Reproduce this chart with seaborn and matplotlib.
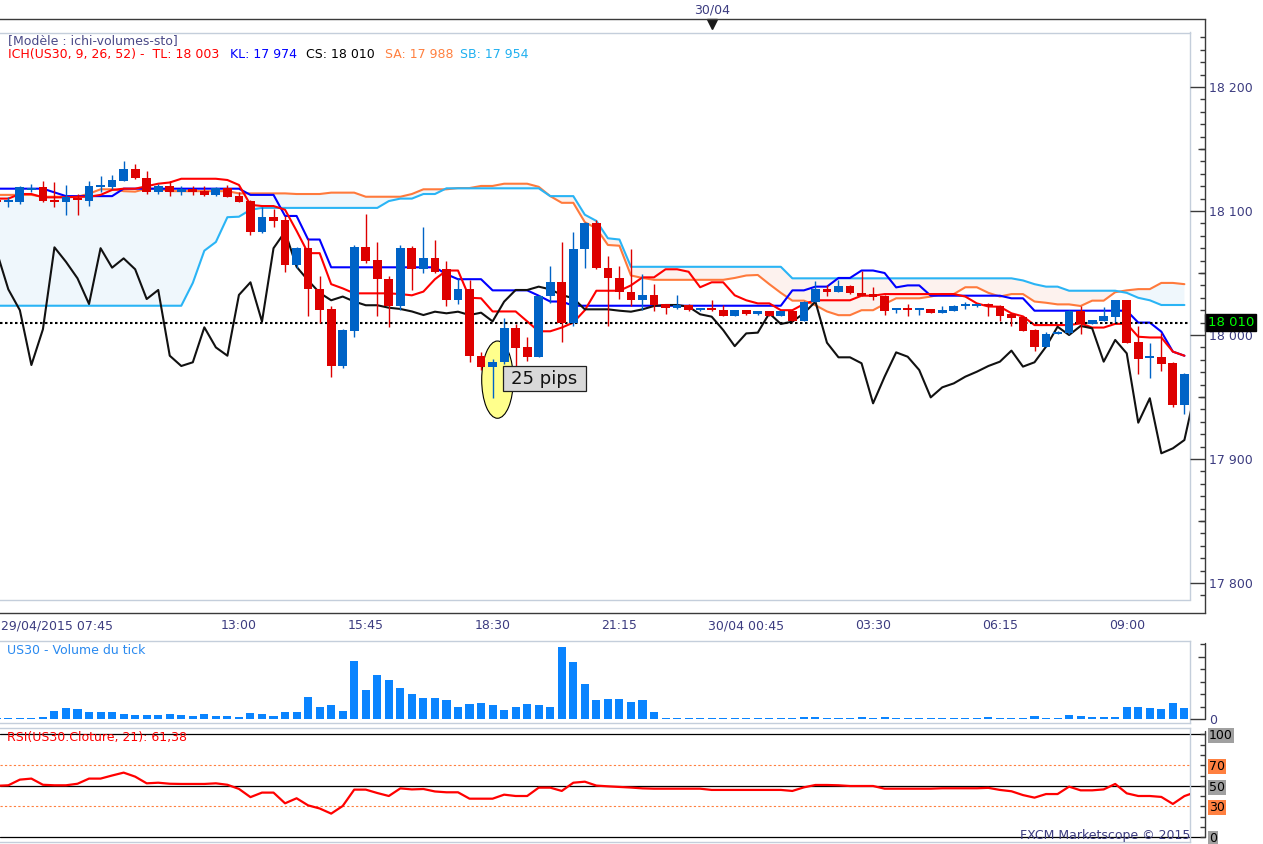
import numpy as np
import matplotlib
matplotlib.use("Agg")
import matplotlib.pyplot as plt
import matplotlib.transforms as mtransforms
from matplotlib.lines import Line2D
from matplotlib.patches import Ellipse, Rectangle
import seaborn as sns

# ---- price bars (15 min, 29/04 07:45 -> 30/04 10:15) ----
opens = [18108, 18107, 18107.5, 18117, 18119, 18109, 18107, 18110.5, 18108, 18119,
         18119, 18124.5, 18133.5, 18127, 18115, 18120, 18115, 18118, 18116, 18113,
         18118.3, 18112, 18108, 18083, 18095, 18093, 18056.5, 18070, 18037, 18021,
         17975, 18003.5, 18070.7, 18060.5, 18045, 18023, 18070, 18053, 18062, 18053,
         18028, 18037, 17983, 17974.5, 17978, 18006, 17990, 17982.5, 18031.7, 18042.5,
         18010, 18069, 18090, 18054, 18046, 18035, 18028, 18032, 18024.7, 18021.5,
         18024, 18020, 18021, 18020, 18015.6, 18020, 18016.7, 18019, 18015.6, 18019.6,
         18011.5, 18027, 18037, 18035, 18039.5, 18033.6, 18033, 18031.5, 18020, 18020.8,
         18020, 18020.7, 18018, 18019.6, 18023.5, 18023, 18023.8, 18023.4, 18017, 18014.8,
         18004, 17990.6, 18000.8, 18001.3, 18019.6, 18009, 18011.5, 18014.8, 18028.2, 17994.6,
         17981.5, 17982.5, 17977.7, 17943.5]
closes = [18107, 18108, 18119, 18118, 18108, 18107, 18111, 18108.5, 18120, 18120,
          18125, 18133.5, 18127, 18115, 18120, 18115, 18118, 18115, 18113, 18118.5,
          18111.5, 18107.5, 18083, 18095, 18092, 18056.5, 18070, 18037, 18020, 17975,
          18004, 18071, 18060, 18045, 18023, 18070, 18053, 18062, 18051, 18028,
          18037, 17983, 17974.5, 17978, 18006, 17989.6, 17982.5, 18031.7, 18042.5, 18010,
          18069, 18090, 18054, 18046, 18035, 18028, 18032, 18024, 18021.5, 18024.2,
          18020, 18021, 18020, 18015.6, 18020, 18016.7, 18019, 18015.6, 18019, 18011.5,
          18027, 18037, 18035, 18039.5, 18033.6, 18031.7, 18031, 18019.6, 18020.8, 18020,
          18020.8, 18018, 18020.2, 18023.6, 18024.2, 18024.2, 18023, 18015.6, 18014, 18003.5,
          17990.6, 18000.8, 18002.7, 18019.6, 18008.9, 18012, 18015.3, 18028.2, 17993.8, 17980.6,
          17982.5, 17976.6, 17943.5, 17968.5]
highs = [18111, 18111, 18120, 18122, 18124, 18123, 18121, 18114, 18124, 18128,
         18129, 18140, 18138, 18132, 18122, 18124.5, 18120, 18120, 18120, 18119,
         18121, 18115.6, 18108.5, 18103.5, 18102, 18096, 18071, 18078, 18047.6, 18023,
         18005, 18072.6, 18097.6, 18074.8, 18047.6, 18072.6, 18072, 18087, 18077, 18060,
         18046, 18044, 17986, 17980.6, 18014, 18009, 17998, 18032, 18055.6, 18075,
         18083, 18091, 18093, 18064, 18056, 18069, 18049, 18041, 18025, 18032,
         18025, 18021.5, 18028, 18024, 18020.5, 18020.5, 18019.5, 18019.5, 18019.5, 18020,
         18027.5, 18043.5, 18040, 18044.4, 18040, 18052, 18039, 18032, 18022, 18025,
         18021, 18021, 18023, 18024, 18027, 18024.5, 18026, 18023.8, 18017.5, 18015,
         18004.5, 18002.7, 18003, 18020, 18023.4, 18012.5, 18022.8, 18028.5, 18028.5, 18007,
         17993.8, 18002, 17978, 17969]
lows = [18104, 18103, 18106, 18115.6, 18107, 18103, 18097, 18097, 18104, 18115.6,
        18118, 18124, 18126, 18114, 18114, 18112, 18113, 18113, 18112, 18112,
        18111, 18107, 18081, 18082, 18087, 18051, 18054, 18015, 18009.4, 17966,
        17973.6, 17998.6, 18057.8, 18015.3, 18006.7, 18020, 18036, 18050, 18050, 18023,
        18025, 17978, 17972, 17949.5, 17977, 17974.5, 17979, 17982, 18025.5, 17994,
        18007.5, 18054, 18053, 18007, 18029, 18023, 18020, 18019, 18017, 18021,
        18019.5, 18019.5, 18019.5, 18015, 18015, 18016, 18016, 18015, 18015, 18011,
        18011, 18026.5, 18031.5, 18034.5, 18033, 18031.5, 18028, 18016, 18018, 18015,
        18016, 18017.5, 18017.5, 18019, 18021, 18022.5, 18015.6, 18011.5, 18007.5, 18003,
        17987.4, 17990, 18000.5, 18001, 18000.8, 18008.5, 18011, 18010.2, 17993.5, 17968.5,
        17965, 17971, 17941.7, 17936]

# ---- Ichimoku lines ----
tenkan = [18110, 18110, 18113.7, 18113.7, 18111, 18111, 18111, 18111.5, 18111.5, 18113,
          18117, 18118, 18118, 18120, 18122, 18123, 18126, 18126, 18126, 18126,
          18125, 18121, 18105, 18104, 18104, 18101, 18084, 18066, 18066, 18041,
          18037.6, 18033.6, 18033.6, 18033.6, 18033.6, 18033, 18032, 18035, 18045, 18052,
          18052, 18030, 18029.6, 18019, 18019, 18019, 18011, 18003, 18003, 18006,
          18010, 18020, 18035.7, 18035.7, 18035.7, 18040, 18046.5, 18046.5, 18053, 18053,
          18051, 18038.5, 18042.5, 18042.5, 18032, 18028, 18025.5, 18025.5, 18020, 18020,
          18025, 18028, 18028, 18028, 18028, 18031.7, 18031.7, 18033, 18033, 18033,
          18033, 18033, 18033, 18033, 18031, 18025.5, 18023, 18022.8, 18017.5, 18015,
          18008, 18008, 18008, 18008, 18009.4, 18006, 18006, 18009, 18009, 17998.6,
          17998, 17998, 17986.6, 17983.3]
kijun = [18118, 18118, 18118, 18118, 18118, 18115, 18112, 18112, 18112, 18112,
         18112, 18118, 18118, 18118, 18118, 18118, 18118, 18118, 18118, 18118,
         18118, 18118, 18113, 18113, 18113, 18096, 18096, 18077, 18077, 18054.6,
         18054.6, 18054.6, 18054.6, 18054.6, 18054.6, 18054.6, 18054.6, 18054.6, 18054.6, 18049,
         18045, 18045, 18045, 18036, 18036, 18036, 18036, 18031.7, 18027, 18027,
         18023.6, 18023.6, 18023.6, 18023.6, 18023.6, 18023.6, 18023.6, 18023.6, 18023.6, 18023.6,
         18023.6, 18023.6, 18023.6, 18023.6, 18023.6, 18023.6, 18023.6, 18023.6, 18023.6, 18036,
         18036, 18039, 18039, 18046, 18046, 18052, 18052, 18050, 18038.4, 18040,
         18040, 18031.7, 18031.7, 18031.7, 18031.7, 18031.7, 18031.7, 18031.7, 18029.6, 18029.6,
         18019.6, 18019.6, 18019.6, 18019.6, 18019.6, 18019.6, 18019.6, 18019.6, 18019.6, 18010,
         18010, 18002.7, 17986.6, 17983.3]
senkou_a = [18113, 18113, 18113, 18113, 18111.5, 18111.5, 18111.5, 18111.5, 18114, 18117.5,
            18117.5, 18116, 18115.6, 18118, 18118, 18116, 18116, 18116, 18116, 18116,
            18116, 18114.2, 18114.2, 18114.2, 18114.2, 18114.2, 18113.7, 18113.7, 18113.7, 18114.8,
            18114.8, 18114.8, 18111.5, 18111.5, 18111.5, 18111.5, 18113.7, 18117.5, 18117.5, 18117.5,
            18118.5, 18118.5, 18120.2, 18120.2, 18122, 18122, 18122, 18119.5, 18112, 18106.6,
            18106.6, 18091, 18086, 18072.6, 18072, 18048, 18046, 18044.5, 18044.5, 18044.5,
            18044.5, 18044.5, 18044.5, 18044.5, 18046, 18048, 18048.4, 18041, 18034, 18027.7,
            18027.7, 18024, 18019, 18016, 18016, 18020, 18020, 18025, 18029.6, 18029.6,
            18029.6, 18031, 18033, 18033, 18038.5, 18038.5, 18034, 18031, 18033, 18033,
            18027, 18026, 18024.7, 18024.7, 18023.4, 18027.7, 18027.7, 18034.5, 18036, 18037,
            18037, 18042, 18042, 18041]
senkou_b = [18023.6, 18023.6, 18023.6, 18023.6, 18023.6, 18023.6, 18023.6, 18023.6, 18023.6, 18023.6,
            18023.6, 18023.6, 18023.6, 18023.6, 18023.6, 18023.6, 18023.6, 18042, 18068, 18075,
            18095, 18095.4, 18101, 18102.5, 18102.5, 18102.5, 18102.5, 18102.5, 18102.5, 18102.5,
            18102.5, 18102.5, 18102.5, 18102.5, 18108, 18110, 18110, 18113.7, 18113.7, 18118.3,
            18118.3, 18118.3, 18118.3, 18118.3, 18118.3, 18118.3, 18118.3, 18118.3, 18112, 18112,
            18112, 18097, 18092, 18078, 18077, 18055, 18055, 18055, 18055, 18055,
            18055, 18055, 18055, 18055, 18055, 18055, 18055, 18055, 18055, 18045.7,
            18045.7, 18045.7, 18045.7, 18045.7, 18045.7, 18045.7, 18045.7, 18045.7, 18045.7, 18045.7,
            18045.7, 18045.7, 18045.7, 18045.7, 18045.7, 18045.7, 18045.7, 18045.7, 18045.7, 18044,
            18041, 18039, 18039, 18035.7, 18035.7, 18035.7, 18035.7, 18035.7, 18034, 18030,
            18028, 18024.2, 18024.2, 18024.2]
chikou = [18067, 18036.8, 18020, 17975.8, 18004.6, 18070.7, 18059, 18045.7, 18025, 18070,
          18054.3, 18061.8, 18053, 18029, 18036.3, 17983.3, 17975, 17978, 18006.2, 17990,
          17983.3, 18032.3, 18042.5, 18010.8, 18070, 18083.3, 18055, 18044, 18034, 18028,
          18031, 18027, 18024, 18024, 18022, 18021, 18019, 18016.1, 18018.8, 18017.5,
          18018.8, 18016.1, 18018, 18011, 18026.9, 18036.3, 18036.3, 18039, 18036.8, 18032.3,
          18029.6, 18020.7, 18020.7, 18020.7, 18019.6, 18018.8, 18020.7, 18023.4, 18024.2, 18024.2,
          18022.8, 18016.7, 18014.8, 18004, 17991, 18001.3, 18001.9, 18017.5, 18008.9, 18010.8,
          18017.5, 18026.9, 17993.8, 17982, 17982, 17977.2, 17944.9, 17966.4, 17986, 17982.5,
          17971.8, 17949.7, 17957.8, 17961, 17966.4, 17970.4, 17975, 17978.5, 17987.4, 17974.5,
          17978, 17990.6, 18006.7, 18000, 18007.3, 18005.4, 17978.5, 17996, 17985.2, 17929.3,
          17949, 17904.6, 17908.6, 17915.3, 17957]

# ---- tick volume ----
volume = [4, 4, 4, 4, 8, 32, 44, 40, 31, 28,
          28, 20, 16, 16, 16, 20, 16, 12, 20, 12,
          12, 8, 27, 20, 12, 28, 28, 88, 51, 59,
          32, 232, 116, 176, 156, 124, 100, 84, 84, 76,
          48, 60, 64, 56, 36, 48, 60, 56, 48, 291,
          229, 140, 76, 80, 80, 68, 76, 28, 4, 4,
          4, 4, 4, 4, 4, 4, 4, 4, 4, 4,
          8, 8, 4, 4, 4, 8, 4, 8, 4, 4,
          4, 4, 4, 4, 4, 4, 8, 4, 4, 4,
          12, 4, 4, 16, 12, 8, 8, 8, 48, 48,
          44, 40, 64, 44]

# ---- RSI(21) ----
rsi = [50, 50.5, 56, 57, 51, 50.5, 50.5, 52, 57, 57,
       60, 62.8, 58.9, 52.4, 53, 52, 51.8, 51.8, 51.8, 52.4,
       51, 47, 39, 43.4, 43.4, 33, 37.9, 31, 28, 23,
       30.4, 46.3, 46.3, 43, 40.1, 47.5, 46.5, 46.9, 44.5, 43.7,
       43.7, 37.5, 37.5, 37.5, 41.4, 40.1, 40.1, 48.2, 48.2, 45,
       53, 54, 50.2, 49.5, 48.9, 48.3, 47.5, 47.2, 47.2, 47.2,
       47.2, 47.2, 46, 46, 46, 46, 46, 46, 46, 45,
       48.5, 50.8, 50.8, 50.5, 49.8, 49.8, 49.8, 47.2, 47.2, 47.2,
       47.2, 47.2, 47.6, 47.6, 47.6, 47.6, 48, 46, 44.7, 41,
       38.5, 42, 42, 49.2, 45.6, 45.6, 46.5, 51.8, 42.7, 40.1,
       40.1, 39.2, 32.4, 40, 44]

# ---- axis texts ----
time_ticks = [10, 21, 32, 43, 54, 65, 76, 87, 98]
time_labels = ["", "13:00", "15:45", "18:30", "21:15", "30/04 00:45", "03:30", "06:15", "09:00"]
first_label = "29/04/2015 07:45"
day_bar = 62
day_label = "30/04"
price_ticks = [17800, 17900, 18000, 18100, 18200]
last_price = 18010
rsi_levels = [0, 30, 50, 70, 100]

# ---- style ----
W, H = 1263, 844
sns.set_theme(style="white")
plt.rcParams["font.family"] = ["DejaVu Sans"]
plt.rcParams["font.size"] = 9

BLUE = "#0063c6"
RED = "#dd0000"
NAVY = "#3c3c80"
DARK = "#3a3a3a"
FRAME = "#c4cedb"

fig = plt.figure(figsize=(W / 100, H / 100), dpi=100)
fig.patch.set_facecolor("white")


def rect(x0, y0, x1, y1):
    return [x0 / W, 1 - y1 / H, (x1 - x0) / W, (y1 - y0) / H]


def fline(x0, y0, x1, y1, **kw):
    fig.add_artist(Line2D([x0 / W, x1 / W], [1 - y0 / H, 1 - y1 / H],
                          transform=fig.transFigure, **kw))


def px2bar(px):
    return (px + 3.2) / 11.53


X0, X1, X1B = px2bar(0), px2bar(1190), px2bar(1205)


def frame(ax):
    ax.set_facecolor("white")
    for s in ["top", "right", "bottom"]:
        ax.spines[s].set_color(FRAME)
        ax.spines[s].set_linewidth(1)
    ax.spines["left"].set_visible(False)
    ax.set_xticks([])
    ax.set_yticks([])
    ax.set_xlabel("")
    ax.set_ylabel("")


def right_axis(y0, y1, ylim):
    a = fig.add_axes(rect(1190, y0, 1205, y1))
    a.set_xlim(0, 1)
    a.set_ylim(*ylim)
    a.patch.set_visible(False)
    for s in a.spines.values():
        s.set_visible(False)
    a.set_xticks([])
    a.yaxis.tick_right()
    a.tick_params(axis="y", which="both", direction="in", color=DARK, width=1,
                  pad=3, labelsize=9, labelcolor=NAVY)
    return a


idx = np.arange(len(opens))
idx_ext = np.arange(len(chikou))
o, c = np.array(opens), np.array(closes)
hi, lo = np.array(highs), np.array(lows)
sa, sb = np.array(senkou_a), np.array(senkou_b)
cols = np.where(c >= o, BLUE, RED)

# ================= main price panel =================
ax = fig.add_axes(rect(0, 32.5, 1190, 599.5))
ax.fill_between(idx, sa, sb, where=sa >= sb, interpolate=True, color="#eff7fc", lw=0, zorder=1)
ax.fill_between(idx, sa, sb, where=sa < sb, interpolate=True, color="#fdf2ee", lw=0, zorder=1)
sns.lineplot(x=idx, y=senkou_a, ax=ax, color="#ff7a3c", linewidth=1.5, errorbar=None, zorder=2)
sns.lineplot(x=idx, y=senkou_b, ax=ax, color="#2ab4f5", linewidth=1.5, errorbar=None, zorder=2)
sns.lineplot(x=idx, y=kijun, ax=ax, color="#0000ff", linewidth=1.5, errorbar=None, zorder=2.2)
sns.lineplot(x=idx, y=tenkan, ax=ax, color="#ff0000", linewidth=1.5, errorbar=None, zorder=2.3)
sns.lineplot(x=idx_ext, y=chikou, ax=ax, color="#111111", linewidth=1.5, errorbar=None, zorder=2.4)
ax.axhline(last_price, color="black", lw=1.5, ls=(0, (1.2, 1.2)), zorder=2.5)

ax.add_patch(Ellipse((px2bar(497.5), 17964), width=31.6 / 11.53, height=62.3,
                     facecolor="#ffff8c", edgecolor="black", lw=0.8, zorder=3))
ax.vlines(idx, lo, hi, colors=cols, lw=1, zorder=4)
ax.bar(idx, np.maximum(np.abs(c - o), 1.6), bottom=np.minimum(o, c), width=0.76,
       color=cols, linewidth=0, zorder=5)

ax.add_patch(Rectangle((px2bar(503), 17954.8), 83 / 11.53, 20.2, facecolor="#d9d9d9",
                       edgecolor="#202020", lw=0.9, zorder=9))
ax.text(px2bar(544.5), 17964.6, "25 pips", fontsize=13, ha="center", va="center",
        color="#111111", zorder=10)

ax.set_xlim(X0, X1)
ax.set_ylim(17786.7, 18243.95)
frame(ax)

ax.text(8 / 1190, 1 - (41 - 32.5) / 567, "[Modèle : ichi-volumes-sto]", transform=ax.transAxes,
        color="#4a4a88", va="center", fontsize=9)
legend_parts = [(8, "ICH(US30, 9, 26, 52) -  TL: 18 003", "#ff0000"),
                (230, "KL: 17 974", "#0000ff"),
                (306, "CS: 18 010", "black"),
                (385, "SA: 17 988", "#ff8040"),
                (460, "SB: 17 954", "#20b0f0")]
for xp, txt, col in legend_parts:
    ax.text(xp / 1190, 1 - (54.5 - 32.5) / 567, txt, transform=ax.transAxes,
            color=col, va="center", fontsize=9)

# price scale on the right
axr = right_axis(32.5, 599.5, ax.get_ylim())
axr.set_yticks(price_ticks)
axr.set_yticklabels([f"{v:,}".replace(",", " ") for v in price_ticks])
axr.set_yticks(np.arange(17790, 18250, 10), minor=True)
axr.tick_params(axis="y", which="major", length=15 * 0.72)
axr.tick_params(axis="y", which="minor", length=5 * 0.72)
axr.hlines([17850, 17950, 18050, 18150], 8 / 15, 1, colors=DARK, lw=1)
axr.text((1207.5 - 1190) / 15, last_price, f"{last_price:,}".replace(",", " "),
         transform=mtransforms.blended_transform_factory(axr.transAxes, axr.transData),
         color="#00ff00", fontsize=9.5, ha="left", va="center", zorder=20,
         bbox=dict(boxstyle="square,pad=0.18", fc="black", ec="black"))

# top date strip
axt = fig.add_axes(rect(0, 0, 1205, 19.3))
axt.set_xlim(X0, X1B)
axt.patch.set_visible(False)
for s in ["top", "left", "right"]:
    axt.spines[s].set_visible(False)
axt.spines["bottom"].set_color(DARK)
axt.spines["bottom"].set_linewidth(1)
axt.set_yticks([])
axt.set_xticks(day_bar + 11.665 * np.arange(-5, 4))
axt.set_xticklabels([])
axt.tick_params(axis="x", direction="out", length=2.2, width=1, color=DARK)
btr = mtransforms.blended_transform_factory(axt.transData, axt.transAxes)
axt.text(day_bar, 0.5, day_label, transform=btr, ha="center", va="center",
         color=NAVY, fontsize=9)
axt.plot([day_bar], [-0.235], marker="v", ms=6.5, color="#1a1a1a", transform=btr,
         clip_on=False)

# bottom time strip
axs = fig.add_axes(rect(0, 599.5, 1205, 612.5))
axs.set_xlim(X0, X1B)
axs.patch.set_visible(False)
for s in ["top", "left", "right"]:
    axs.spines[s].set_visible(False)
axs.spines["bottom"].set_color(DARK)
axs.spines["bottom"].set_linewidth(1)
axs.set_yticks([])
axs.set_xticks(time_ticks)
axs.set_xticklabels(time_labels)
axs.set_xticks(np.arange(10 - 1.375 * 7, X1B, 1.375), minor=True)
axs.tick_params(axis="x", which="major", direction="in", length=12.5 * 0.72, width=1,
                color=DARK, pad=5, labelsize=9, labelcolor=NAVY)
axs.tick_params(axis="x", which="minor", direction="in", length=3.5 * 0.72, width=1,
                color=DARK)
fig.text(1 / W, 1 - 619.8 / H, first_label, ha="left", va="top", color=NAVY, fontsize=9)

fline(1205, 19.3, 1205, 612.5, color=DARK, lw=1)

# ================= volume panel =================
axv = fig.add_axes(rect(0, 641, 1190, 723.3))
sns.barplot(x=idx, y=volume, ax=axv, native_scale=True, width=0.7, color="#0a84ff",
            saturation=1, errorbar=None, linewidth=0)
axv.set_xlim(X0, X1)
axv.set_ylim(-16, 313.2)
frame(axv)
axv.text(7 / 1190, 1 - (650.5 - 641) / 82.3, "US30 - Volume du tick", transform=axv.transAxes,
         color="#2a8af0", va="center", fontsize=9)

axvr = right_axis(641, 723.3, axv.get_ylim())
axvr.set_yticks([0])
axvr.set_yticklabels(["0"])
axvr.set_yticks([50, 100, 150, 200, 300], minor=True)
axvr.tick_params(axis="y", which="major", length=15 * 0.72)
axvr.tick_params(axis="y", which="minor", length=5 * 0.72)
axvr.hlines([250], 8 / 15, 1, colors=DARK, lw=1)
fline(1205, 642.7, 1205, 719.3, color=DARK, lw=1)

# ================= RSI panel =================
axi = fig.add_axes(rect(0, 728.3, 1190, 842.3))
for lvl in [0, 50, 100]:
    axi.axhline(lvl, xmin=0, xmax=1205 / 1190, color="black", lw=0.9, clip_on=False, zorder=1)
for lvl in [30, 70]:
    axi.axhline(lvl, color="#ff8040", lw=0.8, ls=(0, (2, 2)), zorder=1)
sns.lineplot(x=idx_ext, y=rsi, ax=axi, color="#ff0000", linewidth=1.6, errorbar=None, zorder=3)
axi.set_xlim(X0, X1)
axi.set_ylim(-4.85, 105.83)
frame(axi)
axi.text(7 / 1190, 1 - (737.5 - 728.3) / 114, "RSI(US30.Cloture, 21): 61,38",
         transform=axi.transAxes, color="#ff0000", va="center", fontsize=9, zorder=5)
axi.text(1.0, 1 - (835 - 728.3) / 114, "FXCM Marketscope © 2015", transform=axi.transAxes,
         color=NAVY, ha="right", va="center", fontsize=9, zorder=5)

axir = right_axis(728.3, 842.3, axi.get_ylim())
axir.set_yticks(rsi_levels)
axir.set_yticklabels([str(v) for v in rsi_levels])
axir.set_yticks([10, 20, 40, 60, 80, 90], minor=True)
axir.tick_params(axis="y", which="both", length=5 * 0.72, labelcolor="black")
for lbl, lvl in zip(axir.get_yticklabels(), rsi_levels):
    bg = "#ff8040" if lvl in (30, 70) else "#a0a0a0"
    lbl.set_bbox(dict(boxstyle="square,pad=0.08", fc=bg, ec="none"))
fline(1205, 731, 1205, 837.3, color=DARK, lw=1)

fig.savefig("out.png", dpi=100, facecolor="white")
